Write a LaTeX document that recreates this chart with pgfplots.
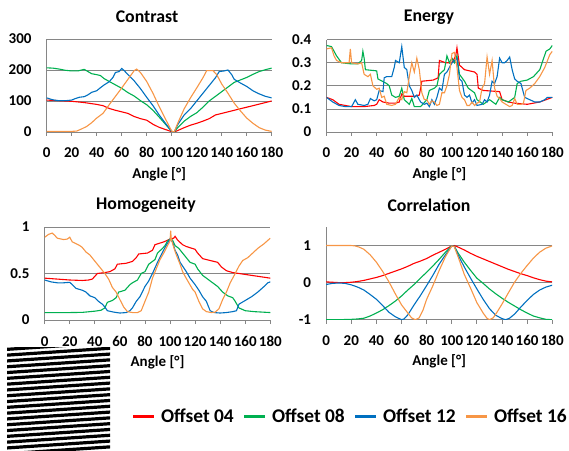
\documentclass[border=0pt]{standalone}
\usepackage{fontspec}
\setmainfont{Carlito}
\usepackage{pgfplots}
\pgfplotsset{compat=1.18}
\definecolor{cRed}{HTML}{FF0000}
\definecolor{cGreen}{HTML}{00B050}
\definecolor{cBlue}{HTML}{0070C0}
\definecolor{cOrange}{HTML}{F79646}
\definecolor{gridgray}{HTML}{868686}
\newcommand\tickfont{\fontsize{15}{18}\selectfont\bfseries}
\newcommand\labfont{\fontsize{15}{18}\selectfont\bfseries}
\newcommand\titlefont{\fontsize{17.8}{20}\selectfont\bfseries}
\newcommand\legfont{\fontsize{19.4}{22}\selectfont\bfseries}
\pgfplotsset{
  sub/.style={
    scale only axis, anchor=south west,
    xmin=0, xmax=180, xtick={0,20,...,180},
    axis lines=left, axis line style={-, draw=gridgray, line width=0.8pt},
    ymajorgrids, grid style={draw=gridgray, line width=0.8pt},
    tick align=outside, major tick length=4pt,
    xtick style={draw=gridgray, line width=0.8pt},
    ytick style={draw=none},
    /pgf/number format/assume math mode=true,
    ticklabel style={font=\tickfont, inner sep=0pt},
    xticklabel style={anchor=base, yshift=-22pt},
    yticklabel style={anchor=east, xshift=-11pt},
    xlabel={Angle [°]},
    xlabel style={font=\labfont, at={(axis description cs:0.5,0)}, anchor=base, yshift=-46pt, inner sep=0pt},
    every axis plot/.append style={line width=1.1pt, no markers},
  }
}
\begin{document}
\begin{tikzpicture}
\useasboundingbox (0pt,0pt) rectangle (569pt,450pt);
% stripe picture
\begin{scope}[x=1pt,y=1pt]
\clip (7,0) rectangle (110,103);
\foreach \i in {-3,...,20} {
  \fill[black] (0,\i*5.8) -- (120,\i*5.8+8) -- (120,\i*5.8+11.2) -- (0,\i*5.8+3.2) -- cycle;
}
\end{scope}
% titles
\node[font=\titlefont] at (147pt,433pt) {Contrast};
\node[font=\titlefont] at (429pt,433pt) {Energy};
\node[font=\titlefont] at (146pt,245pt) {Homogeneity};
\node[font=\titlefont] at (429pt,245pt) {Correlation};

% Contrast
\begin{axis}[sub, at={(46.7pt,318pt)}, width=225pt, height=93pt,
  ymin=0, ymax=300, ytick={0,100,200,300}]
\addplot[cRed] coordinates {(0,103)(10,101)(20,99)(30,95)(40,89)(45,85)(50,76)(55,70)(60,65)(65,60)(70,50)(75,43)(80,38)(85,25)(90,15)(95,8)(100,1)(102,0)(105,5)(110,14)(115,22)(120,28)(125,35)(130,43)(135,55)(140,60)(150,70)(160,80)(170,90)(180,100)};
\addplot[cGreen] coordinates {(0,207)(5,206)(10,203)(15,199)(20,197)(25,197)(28,200)(30,202)(33,195)(36,188)(40,185)(43,182)(46,172)(50,163)(55,152)(60,141)(65,127)(70,116)(75,101)(80,88)(85,70)(90,48)(95,25)(100,2)(102,0)(105,15)(110,35)(115,50)(120,62)(125,80)(130,100)(135,115)(140,130)(145,145)(150,160)(155,168)(160,176)(165,186)(170,195)(175,201)(180,206)};
\addplot[cBlue] coordinates {(0,110)(3,106)(6,103)(10,101)(15,101)(20,103)(23,108)(26,112)(30,114)(33,120)(36,128)(40,133)(43,143)(46,152)(50,162)(53,176)(55,192)(58,195)(60,205)(62,198)(65,185)(70,165)(75,140)(80,112)(85,85)(90,55)(95,28)(100,2)(102,0)(105,25)(110,55)(115,75)(120,100)(125,125)(130,150)(135,175)(138,195)(142,197)(145,200)(148,185)(150,170)(155,158)(160,147)(165,133)(170,123)(175,115)(180,110)};
\addplot[cOrange] coordinates {(0,2)(10,2)(20,2)(24,3)(28,10)(32,18)(36,30)(40,45)(45,60)(50,88)(55,115)(60,142)(65,170)(70,198)(72,203)(75,192)(80,163)(85,125)(90,82)(95,42)(100,3)(102,0)(105,30)(110,75)(115,110)(120,142)(125,175)(128,198)(133,198)(136,185)(140,155)(145,125)(150,93)(155,68)(160,45)(165,28)(170,14)(175,6)(180,2)};
\end{axis}

% Energy
\begin{axis}[sub, at={(326.5pt,318pt)}, width=225.8pt, height=92.3pt,
  ymin=0, ymax=0.4, ytick={0,0.1,0.2,0.3,0.4}]
\addplot[cRed] coordinates {(0,0.15)(5,0.14)(10,0.12)(15,0.115)(20,0.11)(30,0.11)(38,0.115)(40,0.12)(42,0.14)(45,0.13)(50,0.125)(55,0.125)(58,0.13)(60,0.165)(62,0.155)(70,0.155)(74,0.16)(76,0.22)(85,0.225)(89,0.235)(90,0.31)(95,0.30)(100,0.30)(103,0.33)(104,0.365)(106,0.29)(110,0.27)(118,0.26)(120,0.25)(121,0.19)(125,0.18)(138,0.175)(140,0.14)(145,0.13)(150,0.125)(160,0.12)(170,0.13)(175,0.14)(180,0.15)};
\addplot[cGreen] coordinates {(0,0.375)(4,0.37)(8,0.33)(12,0.30)(20,0.295)(25,0.295)(28,0.31)(29,0.35)(30,0.32)(31,0.27)(40,0.265)(41,0.23)(48,0.21)(50,0.2)(52,0.16)(55,0.15)(58,0.155)(60,0.19)(62,0.14)(66,0.12)(68,0.145)(70,0.11)(75,0.11)(80,0.14)(82,0.18)(86,0.19)(88,0.2)(90,0.25)(94,0.27)(96,0.33)(98,0.30)(100,0.32)(102,0.30)(104,0.33)(106,0.25)(110,0.22)(113,0.19)(118,0.17)(120,0.14)(125,0.12)(130,0.14)(135,0.12)(138,0.15)(140,0.14)(145,0.13)(150,0.15)(152,0.21)(155,0.22)(160,0.225)(165,0.24)(170,0.27)(175,0.35)(178,0.36)(180,0.375)};
\addplot[cBlue] coordinates {(0,0.15)(5,0.13)(10,0.115)(15,0.11)(20,0.11)(23,0.14)(25,0.12)(30,0.115)(33,0.12)(35,0.145)(38,0.135)(40,0.14)(42,0.18)(45,0.175)(46,0.235)(48,0.24)(52,0.24)(54,0.28)(55,0.31)(58,0.3)(60,0.37)(62,0.28)(64,0.27)(66,0.2)(68,0.18)(70,0.15)(72,0.16)(75,0.13)(78,0.12)(80,0.125)(82,0.11)(84,0.14)(86,0.12)(88,0.15)(90,0.19)(92,0.18)(94,0.25)(96,0.26)(98,0.28)(100,0.30)(102,0.31)(104,0.32)(106,0.23)(108,0.22)(110,0.16)(112,0.15)(114,0.16)(116,0.125)(118,0.14)(120,0.115)(124,0.12)(126,0.14)(128,0.13)(130,0.16)(132,0.22)(134,0.21)(136,0.24)(138,0.32)(140,0.30)(142,0.30)(144,0.31)(146,0.325)(148,0.27)(150,0.23)(152,0.22)(155,0.21)(158,0.15)(162,0.14)(166,0.13)(170,0.13)(174,0.14)(176,0.15)(180,0.15)};
\addplot[cOrange] coordinates {(0,0.36)(4,0.365)(6,0.33)(8,0.31)(12,0.30)(18,0.30)(19,0.36)(20,0.30)(25,0.295)(28,0.30)(30,0.25)(33,0.24)(35,0.25)(37,0.20)(40,0.185)(42,0.19)(44,0.15)(46,0.155)(48,0.12)(52,0.115)(55,0.12)(58,0.15)(60,0.14)(62,0.175)(64,0.17)(66,0.24)(68,0.30)(70,0.26)(72,0.32)(74,0.27)(76,0.17)(78,0.14)(80,0.14)(82,0.12)(84,0.135)(86,0.13)(88,0.115)(90,0.12)(92,0.17)(94,0.17)(96,0.2)(98,0.25)(100,0.34)(102,0.345)(104,0.28)(106,0.18)(108,0.15)(110,0.14)(112,0.115)(114,0.115)(116,0.13)(118,0.115)(120,0.125)(122,0.13)(124,0.19)(126,0.21)(128,0.325)(130,0.25)(132,0.31)(134,0.19)(136,0.155)(138,0.145)(140,0.13)(143,0.12)(146,0.11)(148,0.115)(150,0.145)(152,0.12)(155,0.12)(157,0.125)(159,0.18)(162,0.19)(166,0.21)(170,0.24)(174,0.28)(178,0.335)(180,0.35)};
\end{axis}

% Homogeneity
\begin{axis}[sub, at={(44.7pt,130pt)}, width=225.6pt, height=93pt,
  ymin=0, ymax=1, ytick={0,0.5,1}]
\addplot[cRed] coordinates {(0,0.45)(5,0.445)(10,0.44)(20,0.43)(30,0.425)(35,0.43)(38,0.44)(40,0.47)(42,0.50)(48,0.51)(52,0.52)(56,0.55)(58,0.6)(65,0.61)(70,0.63)(73,0.67)(75,0.71)(82,0.72)(86,0.75)(88,0.81)(95,0.84)(100,0.87)(103,0.88)(104,0.9)(106,0.86)(110,0.81)(113,0.79)(120,0.76)(122,0.72)(126,0.66)(132,0.64)(138,0.62)(141,0.57)(145,0.53)(150,0.51)(155,0.5)(160,0.49)(170,0.47)(180,0.45)};
\addplot[cGreen] coordinates {(0,0.08)(20,0.08)(30,0.082)(40,0.095)(45,0.105)(48,0.13)(50,0.19)(54,0.21)(57,0.24)(59,0.3)(64,0.32)(68,0.38)(70,0.4)(74,0.43)(77,0.5)(80,0.52)(83,0.6)(88,0.65)(90,0.72)(94,0.77)(96,0.8)(98,0.85)(100,0.87)(102,0.86)(104,0.8)(107,0.77)(110,0.72)(113,0.67)(116,0.62)(120,0.6)(122,0.55)(126,0.48)(130,0.44)(134,0.4)(138,0.36)(142,0.3)(146,0.26)(150,0.24)(152,0.2)(155,0.13)(160,0.1)(167,0.09)(180,0.08)};
\addplot[cBlue] coordinates {(0,0.43)(5,0.41)(10,0.4)(15,0.4)(20,0.405)(22,0.38)(25,0.34)(30,0.32)(33,0.3)(36,0.26)(40,0.24)(43,0.2)(46,0.17)(48,0.14)(50,0.1)(55,0.085)(60,0.075)(65,0.08)(68,0.1)(70,0.13)(73,0.2)(76,0.25)(80,0.36)(83,0.42)(86,0.5)(90,0.62)(93,0.7)(96,0.78)(100,0.87)(102,0.84)(104,0.75)(106,0.7)(108,0.62)(110,0.58)(113,0.52)(116,0.45)(120,0.38)(123,0.32)(126,0.25)(129,0.2)(132,0.1)(135,0.08)(140,0.075)(145,0.08)(150,0.09)(153,0.1)(155,0.17)(160,0.21)(165,0.25)(170,0.3)(175,0.36)(178,0.4)(180,0.41)};
\addplot[cOrange] coordinates {(0,0.89)(3,0.92)(6,0.935)(8,0.91)(10,0.88)(15,0.865)(18,0.87)(20,0.89)(22,0.84)(25,0.82)(28,0.8)(30,0.78)(33,0.73)(36,0.7)(39,0.65)(42,0.6)(45,0.55)(48,0.5)(51,0.44)(54,0.35)(57,0.3)(60,0.22)(63,0.14)(66,0.09)(70,0.08)(74,0.08)(77,0.1)(80,0.2)(83,0.3)(86,0.45)(89,0.55)(92,0.65)(95,0.72)(98,0.8)(100,0.85)(100.5,0.96)(101,0.87)(103,0.78)(105,0.7)(108,0.6)(110,0.52)(112,0.47)(115,0.4)(118,0.33)(120,0.3)(123,0.2)(126,0.12)(129,0.09)(133,0.08)(136,0.085)(139,0.12)(142,0.22)(145,0.3)(148,0.4)(150,0.45)(152,0.5)(155,0.58)(158,0.64)(162,0.67)(166,0.72)(170,0.77)(175,0.82)(180,0.88)};
\end{axis}

% Correlation
\begin{axis}[sub, at={(326.2pt,130.3pt)}, width=226pt, height=92.7pt,
  ymin=-1, ymax=1.5, ytick={-1,0,1},
  legend columns=4,
  legend style={at={(axis description cs:-0.861,-1.046)}, anchor=west, draw=none, fill=none, font=\legfont, inner sep=0pt, nodes={inner sep=0pt}, /tikz/every even column/.append style={column sep=9pt}},
  legend image code/.code={\draw[line width=2.8pt] (0pt,0pt) -- (21pt,0pt); \path (27.3pt,0pt);}]
\addplot[cRed] coordinates {(0,0.02)(5,0.01)(10,0)(15,0)(20,0.01)(25,0.03)(30,0.06)(35,0.1)(40,0.14)(45,0.19)(50,0.25)(55,0.31)(60,0.37)(65,0.44)(70,0.52)(75,0.58)(80,0.65)(85,0.74)(90,0.82)(95,0.9)(100,0.99)(102,1)(105,0.96)(110,0.88)(115,0.79)(120,0.71)(125,0.64)(130,0.57)(135,0.5)(140,0.43)(145,0.36)(150,0.3)(155,0.24)(160,0.19)(165,0.13)(170,0.08)(175,0.04)(180,0.02)};
\addlegendentry{Offset 04}
\addplot[cGreen] coordinates {(0,-1)(10,-1)(20,-0.99)(25,-0.98)(30,-0.96)(35,-0.9)(40,-0.82)(45,-0.73)(50,-0.62)(55,-0.5)(60,-0.36)(65,-0.2)(70,-0.05)(75,0.12)(80,0.28)(85,0.45)(90,0.63)(95,0.82)(100,0.99)(102,0.98)(105,0.8)(110,0.55)(115,0.33)(120,0.12)(125,-0.02)(130,-0.17)(135,-0.3)(140,-0.42)(145,-0.53)(150,-0.63)(155,-0.73)(160,-0.82)(165,-0.9)(170,-0.95)(175,-0.99)(180,-1)};
\addlegendentry{Offset 08}
\addplot[cBlue] coordinates {(0,-0.05)(5,-0.02)(10,-0.01)(15,-0.02)(20,-0.06)(25,-0.12)(30,-0.2)(35,-0.32)(40,-0.45)(45,-0.62)(50,-0.8)(55,-0.92)(60,-1)(62,-0.98)(65,-0.87)(70,-0.6)(75,-0.35)(80,-0.08)(85,0.2)(90,0.5)(95,0.75)(100,0.99)(102,0.98)(105,0.75)(110,0.42)(115,0.12)(120,-0.17)(125,-0.45)(130,-0.7)(135,-0.88)(140,-0.97)(143,-1)(146,-0.96)(150,-0.85)(155,-0.66)(160,-0.48)(165,-0.32)(170,-0.2)(175,-0.12)(180,-0.07)};
\addlegendentry{Offset 12}
\addplot[cOrange] coordinates {(0,1)(10,1)(20,1)(23,0.99)(26,0.96)(30,0.9)(35,0.75)(40,0.55)(45,0.3)(50,0.02)(55,-0.3)(60,-0.6)(65,-0.82)(68,-0.95)(71,-1)(74,-0.95)(77,-0.75)(80,-0.45)(85,-0.08)(90,0.33)(95,0.7)(100,0.99)(102,0.97)(105,0.7)(110,0.22)(115,-0.15)(120,-0.54)(125,-0.82)(128,-0.96)(130,-1)(133,-0.95)(136,-0.8)(140,-0.58)(145,-0.28)(150,0.01)(155,0.25)(160,0.46)(165,0.66)(170,0.82)(175,0.93)(180,0.99)};
\addlegendentry{Offset 16}
\end{axis}
\end{tikzpicture}
\end{document}
